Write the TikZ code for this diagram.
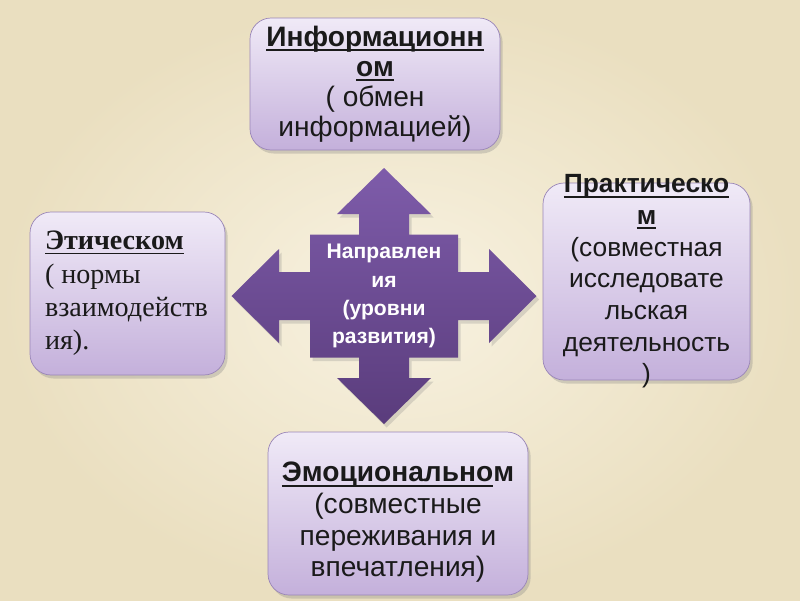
\documentclass[tikz,border=0pt]{standalone}
\usepackage{fontspec}
\setmainfont{Liberation Sans}
\newfontfamily\timesfont{Liberation Serif}
\usetikzlibrary{shadows}
\definecolor{cbgin}{HTML}{F8F2E1}
\definecolor{cbgout}{HTML}{EADFC0}
\definecolor{cboxtop}{HTML}{F0EAF7}
\definecolor{cboxbot}{HTML}{C4B0DB}
\definecolor{cboxline}{HTML}{9A86B8}
\definecolor{carrtop}{HTML}{7E5CAA}
\definecolor{carrbot}{HTML}{5A3C7C}
\definecolor{cbk}{HTML}{1A1A1A}
\newcommand{\undl}[1]{\setbox0\hbox{#1}\rlap{\raisebox{-2.6pt}{\rule{\wd0}{1pt}}}\box0}

\begin{document}
\begin{tikzpicture}
    \shade[inner color=cbgin, outer color=cbgout] (0,0) rectangle (16,-12);
    \begin{scope}[every node/.style={rectangle, rounded corners=12pt, draw=cboxline, top color=cboxtop, bottom color=cboxbot, drop shadow={opacity=0.3, shadow xshift=1.5pt, shadow yshift=-2pt}}]
        \node (info) [minimum width=5cm, minimum height=2.64cm] at (7.5,-1.68) {};
        \node (eth) [minimum width=3.9cm, minimum height=3.26cm] at (2.55,-5.87) {};
        \node (prak) [minimum width=4.14cm, minimum height=3.94cm] at (12.93,-5.63) {};
        \node (emo) [minimum width=5.2cm, minimum height=3.26cm] at (7.96,-10.27) {};
    \end{scope}
    % cross arrow in the middle
    \coordinate (mid) at (7.68,-5.92);
    \shade[top color=carrtop, bottom color=carrbot, shift={(mid)}, drop shadow={opacity=0.25, shadow xshift=1.5pt, shadow yshift=-2pt}]
        (0,2.56) -- (0.94,1.64) -- (0.5,1.64) -- (0.5,1.23) -- (1.48,1.23) -- (1.48,0.48) -- (2.1,0.48) -- (2.1,0.94) -- (3.05,0)
        -- (2.1,-0.94) -- (2.1,-0.48) -- (1.48,-0.48) -- (1.48,-1.23) -- (0.5,-1.23) -- (0.5,-1.64) -- (0.94,-1.64) -- (0,-2.56)
        -- (-0.94,-1.64) -- (-0.5,-1.64) -- (-0.5,-1.23) -- (-1.48,-1.23) -- (-1.48,-0.48) -- (-2.1,-0.48) -- (-2.1,-0.94) -- (-3.05,0)
        -- (-2.1,0.94) -- (-2.1,0.48) -- (-1.48,0.48) -- (-1.48,1.23) -- (-0.5,1.23) -- (-0.5,1.64) -- (-0.94,1.64) -- cycle;
    \node (dir) [align=center, text=white, font=\fontsize{12}{16}\selectfont\bfseries] at (mid) {Направлен\\ия\\(уровни\\развития)};
    \begin{scope}[every node/.style={align=center, text=cbk, inner sep=0pt, font=\fontsize{15}{18}\selectfont}]
        \node (infot) [font=\fontsize{16}{17}\selectfont] at (info.center) {\textbf{\undl{Информационн}}\\\textbf{\undl{ом}}\\( обмен\\информацией)};
        \node (etht) [anchor=west, align=left, font=\fontsize{16}{19}\timesfont] at ([xshift=0.3cm]eth.west) {\textbf{\undl{Этическом}}\\( нормы\\взаимодейств\\ия).};
        \node (prakt) at (prak.center) {\textbf{\undl{Практическо}}\\\textbf{\undl{м}}\\(совместная\\исследовате\\льская\\деятельность\\)};
        \node (emot) [font=\fontsize{16}{18}\selectfont] at ([yshift=-0.18cm]emo.center) {\textbf{\undl{Эмоционально}м}\\(совместные\\переживания и\\впечатления)};
    \end{scope}
\end{tikzpicture}
\end{document}
